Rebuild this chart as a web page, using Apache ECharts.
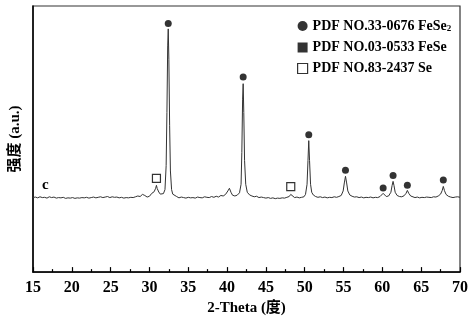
<!DOCTYPE html>
<html>
<head>
<meta charset="utf-8">
<script src="https://cdn.jsdelivr.net/npm/echarts@6/dist/echarts.min.js"></script>
<style>html,body{margin:0;padding:0;background:#fff;}#c{width:474px;height:321px;}</style>
</head>
<body>
<div id="c"></div>
<script>
var thetaDeg = [15.0,15.3,15.6,15.9,16.2,16.5,16.8,17.1,17.4,17.7,18.0,18.3,18.6,18.9,19.2,19.5,19.8,20.1,20.4,20.7,21.0,21.3,21.6,21.9,22.2,22.5,22.8,23.1,23.4,23.7,24.0,24.3,24.6,24.9,25.2,25.5,25.8,26.1,26.4,26.7,27.0,27.3,27.6,27.9,28.2,28.5,28.8,29.1,29.4,29.7,30.0,30.3,30.6,30.8,30.9,31.0,31.2,31.4,31.6,31.8,32.0,32.15,32.25,32.35,32.42,32.5,32.6,32.7,32.85,33.0,33.2,33.5,33.8,34.1,34.4,34.7,35.0,35.3,35.6,35.9,36.2,36.5,36.8,37.1,37.4,37.7,38.0,38.3,38.6,38.9,39.2,39.5,39.8,40.1,40.3,40.5,40.7,41.0,41.3,41.6,41.8,41.9,42.0,42.07,42.15,42.25,42.4,42.6,42.9,43.2,43.5,43.8,44.1,44.4,44.7,45.0,45.3,45.6,45.9,46.2,46.5,46.8,47.1,47.4,47.7,48.0,48.2,48.4,48.7,49.0,49.3,49.6,49.9,50.1,50.3,50.42,50.52,50.62,50.75,50.9,51.1,51.4,51.7,52.0,52.3,52.6,52.9,53.2,53.5,53.8,54.1,54.4,54.7,54.95,55.1,55.25,55.4,55.55,55.8,56.1,56.4,56.7,57.0,57.3,57.6,57.9,58.2,58.5,58.8,59.1,59.4,59.7,59.95,60.1,60.25,60.5,60.8,61.1,61.25,61.38,61.5,61.65,61.9,62.2,62.5,62.8,63.05,63.22,63.4,63.65,63.9,64.2,64.5,64.8,65.1,65.4,65.7,66.0,66.3,66.6,66.9,67.2,67.5,67.7,67.85,68.0,68.2,68.5,68.8,69.1,69.4,69.7,70.0];
var intensity = [28.0,28.2,27.9,28.3,28.0,28.1,27.8,28.3,28.0,28.2,27.8,28.0,27.9,28.1,27.7,27.9,27.8,28.0,27.7,27.9,27.8,28.0,27.9,28.1,27.8,28.0,28.2,27.9,28.1,28.3,28.0,28.2,28.4,28.0,28.3,28.1,28.2,27.9,28.1,27.8,28.0,27.9,28.1,28.0,28.3,28.6,28.4,29.2,28.8,28.2,28.5,29.6,30.2,31.5,32.6,31.4,30.1,29.3,29.0,29.5,31.0,40,60,85,91.4,80,55,38,31,29.3,28.6,28.4,27.9,28.2,28.0,27.8,28.1,27.9,28.0,27.8,28.2,28.0,27.9,28.3,28.1,28.0,28.4,28.1,28.5,28.2,28.8,28.6,29.2,30.5,31.5,30.0,28.9,28.6,28.9,29.8,33,45,65,70.8,60,42,33,30,29,28.6,28.3,28.5,28.0,28.2,28.0,27.8,28.0,27.7,27.9,27.6,27.8,27.7,27.9,27.8,28.1,28.4,29.2,28.5,28.0,28.2,27.9,28.1,28.3,29.2,33,42,49.4,42,33,30,29,28.4,28.1,28.3,28.0,28.2,27.9,28.1,28.0,28.3,28.1,28.4,28.8,30.5,33.5,36.0,33.5,30.5,29.0,28.5,28.2,28.3,28.0,28.2,27.9,28.1,28.0,28.2,27.9,28.1,28.0,28.4,29.0,29.6,29.0,28.4,28.6,30.0,32.5,34.1,32.5,30.0,28.8,28.4,28.3,28.7,29.6,30.7,29.6,28.6,28.2,28.0,28.2,27.9,28.1,28.0,28.2,28.1,28.0,28.3,28.2,28.6,29.3,30.6,32.2,30.6,29.2,28.5,28.2,28.0,28.2,28.3,28.1];
var fese2Marks = [[32.42,93.4],[42.07,73.3],[50.52,51.6],[55.25,38.3],[60.1,31.6],[61.38,36.3],[63.22,32.6],[67.85,34.6]];
var feseMarks = [];
var seMarks = [[30.9,35.2],[48.2,32.1]];
var legendNames = ['PDF NO.33-0676 FeSe2','PDF NO.03-0533 FeSe','PDF NO.83-2437 Se'];
var xTicks = {min:15, max:70, step:5};

var pattern = thetaDeg.map(function(t,i){return [t,intensity[i]];});
var serif = '"Liberation Serif","Times New Roman",serif';
var chart = echarts.init(document.getElementById('c'), null, {renderer:'canvas'});
chart.setOption({
  animation:false,
  backgroundColor:'#fff',
  grid:{left:31,right:14,top:6,bottom:47,show:true,borderColor:'#333',borderWidth:1.2,backgroundColor:'transparent'},
  legend:{
    orient:'vertical', left:292, top:14, itemWidth:10, itemHeight:10, itemGap:7,
    data:[
      {name:legendNames[0], icon:'circle', itemStyle:{color:'#000',borderWidth:0}},
      {name:legendNames[1], icon:'rect', itemStyle:{color:'#000',borderWidth:0}},
      {name:legendNames[2], icon:'rect', itemStyle:{color:'#fff',borderColor:'#000',borderWidth:1.2}}
    ],
    formatter:function(n){return n.replace(/FeSe2$/,'FeSe{sub|2}');},
    textStyle:{fontFamily:serif,fontWeight:'bold',fontSize:14,color:'#000',
      rich:{sub:{fontFamily:serif,fontWeight:'bold',fontSize:9,color:'#000',verticalAlign:'bottom',padding:[6,0,0,0]}}}
  },
  xAxis:{
    type:'value', min:xTicks.min, max:xTicks.max, interval:xTicks.step,
    name:'2-Theta (度)', nameLocation:'middle', nameGap:27,
    nameTextStyle:{fontFamily:serif+',"Noto Sans CJK SC"',fontWeight:'bold',fontSize:15,color:'#000'},
    axisLine:{lineStyle:{color:'#000',width:1.5}},
    axisTick:{inside:true,length:5,lineStyle:{color:'#000',width:1.2}},
    minorTick:{show:true,splitNumber:2,length:3,lineStyle:{color:'#000',width:1.2}},
    axisLabel:{fontFamily:serif,fontWeight:'bold',fontSize:16,color:'#000',margin:8},
    splitLine:{show:false}
  },
  yAxis:{
    type:'value', min:0, max:100,
    name:'强度 (a.u.)', nameLocation:'middle', nameGap:10, nameRotate:90,
    nameTextStyle:{fontFamily:serif+',"Noto Sans CJK SC"',fontWeight:'bold',fontSize:15,color:'#000'},
    axisLine:{show:true,lineStyle:{color:'#000',width:1.5}},
    axisTick:{show:false}, axisLabel:{show:false}, splitLine:{show:false}
  },
  graphic:[{type:'text',left:42,top:178,style:{text:'c',font:'bold 15px '+serif,fill:'#000'}}],
  series:[
    {name:'pattern',type:'line',data:pattern,showSymbol:false,symbol:'none',lineStyle:{color:'#333',width:1},z:2},
    {name:legendNames[0],type:'scatter',data:fese2Marks,symbol:'circle',symbolSize:7,itemStyle:{color:'#000'},z:3},
    {name:legendNames[1],type:'scatter',data:feseMarks,symbol:'rect',symbolSize:8,itemStyle:{color:'#000'},z:3},
    {name:legendNames[2],type:'scatter',data:seMarks,symbol:'rect',symbolSize:8,itemStyle:{color:'#fff',borderColor:'#000',borderWidth:1.2},z:3}
  ]
});
</script>
</body>
</html>
